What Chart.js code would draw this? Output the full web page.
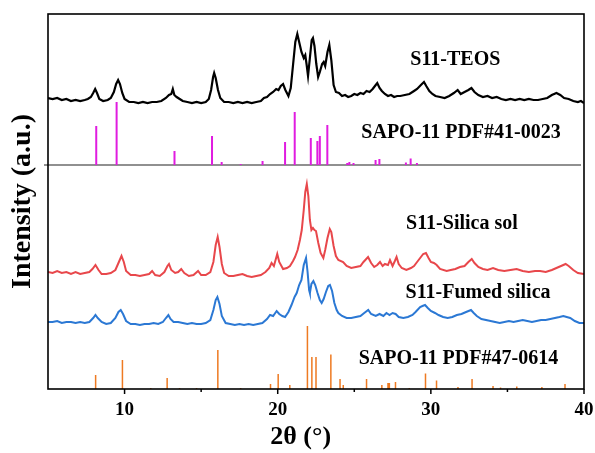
<!DOCTYPE html>
<html>
<head>
<meta charset="utf-8">
<script src="https://cdn.jsdelivr.net/npm/chart.js@4.4.1/dist/chart.umd.min.js"></script>
<style>
  html, body { margin: 0; padding: 0; background: #fff; }
</style>
</head>
<body>
<canvas id="xrdChart" width="595" height="453"></canvas>
<script>
// 2θ axis
const majorTicks = [10, 20, 30, 40];
const minorTicks = [15, 25, 35];

// measured patterns: [2θ, intensity a.u.]
const teosPattern = [
    [5.0,21],[5.3,20],[5.6,21],[5.9,19],[6.2,20],[6.5,18],[6.8,19],[7.1,18],[7.4,19],[7.6,20],[7.8,22],
    [7.95,26],[8.08,30],[8.2,26],[8.35,20],[8.6,18],[8.9,19],[9.1,21],[9.3,27],[9.45,35],[9.58,39],[9.7,35],
    [9.85,26],[10.0,20],[10.3,17],[10.6,17],[10.9,16],[11.2,17],[11.5,16],[11.8,17],[12.1,17],[12.4,18],
    [12.7,21],[12.9,24],[13.05,25],[13.15,30],[13.25,24],[13.4,22],[13.6,20],[13.8,18],[14.1,17],[14.4,16],
    [14.7,17],[15.0,16],[15.3,17],[15.5,20],[15.65,29],[15.78,42],[15.85,46],[15.95,41],[16.1,29],[16.25,21],
    [16.5,17],[16.8,17],[17.1,16],[17.4,17],[17.7,16],[18.0,17],[18.3,16],[18.6,17],[18.9,18],[19.1,21],
    [19.3,22],[19.5,25],[19.7,27],[19.9,30],[20.05,29],[20.2,33],[20.35,35],[20.5,29],[20.7,23],[20.85,31],
    [21.0,54],[21.15,77],[21.28,85],[21.4,77],[21.55,67],[21.7,61],[21.8,64],[21.9,53],[21.98,43],[22.1,61],
    [22.22,79],[22.3,81],[22.4,73],[22.52,55],[22.64,42],[22.75,47],[22.9,55],[23.0,57],[23.1,53],[23.25,67],
    [23.37,74],[23.5,59],[23.65,34],[23.8,27],[24.0,26],[24.2,23],[24.4,24],[24.6,22],[24.8,23],[25.0,25],
    [25.2,24],[25.4,26],[25.6,25],[25.8,28],[26.0,27],[26.2,30],[26.4,34],[26.5,36],[26.65,31],[26.8,28],
    [27.0,25],[27.2,23],[27.4,24],[27.6,22],[27.8,23],[28.0,23],[28.3,24],[28.6,25],[28.9,28],[29.1,30],
    [29.35,34],[29.55,37],[29.7,33],[29.9,28],[30.1,25],[30.3,23],[30.6,22],[30.9,21],[31.2,23],[31.5,26],
    [31.75,29],[31.95,25],[32.2,27],[32.45,29],[32.65,31],[32.85,27],[33.1,24],[33.4,22],[33.7,23],[34.0,21],
    [34.3,22],[34.6,20],[34.9,19],[35.2,20],[35.5,19],[35.8,20],[36.1,19],[36.4,20],[36.7,19],[37.0,19],
    [37.3,20],[37.6,21],[37.9,24],[38.2,26],[38.45,24],[38.7,21],[39.0,20],[39.3,18],[39.6,17],[39.8,18],[40.0,16]
];

const silicaSolPattern = [
    [5.0,17],[5.3,16],[5.6,18],[5.9,16],[6.2,17],[6.5,15],[6.8,17],[7.1,15],[7.4,16],[7.7,17],[7.9,20],
    [8.1,24],[8.3,19],[8.5,15],[8.8,15],[9.1,16],[9.4,19],[9.6,26],[9.8,33],[9.95,27],[10.1,18],[10.4,14],
    [10.7,14],[11.0,13],[11.3,14],[11.6,15],[11.8,18],[12.0,14],[12.3,13],[12.6,17],[12.8,23],[12.9,25],
    [13.05,19],[13.3,16],[13.5,17],[13.7,20],[13.9,16],[14.2,13],[14.5,14],[14.8,18],[15.0,14],[15.3,14],
    [15.6,17],[15.8,27],[15.95,44],[16.08,52],[16.2,42],[16.35,25],[16.5,16],[16.8,13],[17.1,13],[17.4,14],
    [17.7,15],[18.0,13],[18.3,12],[18.6,13],[18.9,14],[19.2,17],[19.45,21],[19.6,26],[19.75,23],[19.97,35],
    [20.1,27],[20.35,20],[20.6,21],[20.8,23],[21.0,28],[21.13,32],[21.3,39],[21.45,49],[21.57,59],[21.7,79],
    [21.8,97],[21.9,105],[22.0,93],[22.1,69],[22.2,59],[22.3,61],[22.4,59],[22.5,58],[22.65,46],[22.8,36],
    [22.98,31],[23.1,39],[23.25,51],[23.4,60],[23.5,57],[23.65,43],[23.8,33],[23.96,29],[24.27,27],[24.5,23],
    [24.8,21],[25.1,22],[25.4,23],[25.6,27],[25.9,32],[26.1,26],[26.3,22],[26.5,24],[26.68,27],[26.85,23],
    [27.0,25],[27.2,24],[27.33,29],[27.5,23],[27.65,28],[27.76,32],[27.9,25],[28.1,21],[28.4,19],[28.7,21],
    [28.9,23],[29.1,27],[29.35,32],[29.5,35],[29.68,36],[29.85,31],[30.0,27],[30.2,26],[30.38,24],[30.6,20],
    [31.03,18],[31.3,19],[31.6,20],[31.9,22],[32.2,23],[32.45,27],[32.67,30],[32.85,26],[33.1,22],[33.4,20],
    [33.7,19],[34.06,21],[34.4,19],[34.8,18],[35.2,19],[35.6,20],[36.0,18],[36.4,17],[36.8,18],[37.13,18],
    [37.5,17],[37.9,19],[38.2,21],[38.5,23],[38.8,25],[39.0,23],[39.3,19],[39.6,16],[40.0,15]
];

const fumedSilicaPattern = [
    [5.0,17],[5.3,17],[5.6,18],[5.9,16],[6.2,17],[6.5,17],[6.8,16],[7.1,17],[7.4,16],[7.7,17],[7.95,21],
    [8.1,24],[8.25,21],[8.5,17],[8.8,15],[9.1,16],[9.4,21],[9.6,27],[9.75,29],[9.9,25],[10.1,18],[10.4,15],
    [10.7,15],[11.0,14],[11.3,15],[11.6,15],[11.9,16],[12.2,15],[12.5,17],[12.7,21],[12.86,24],[13.0,20],
    [13.2,17],[13.5,17],[13.8,16],[14.1,15],[14.4,16],[14.7,15],[15.0,15],[15.3,16],[15.6,19],[15.8,29],
    [15.95,39],[16.06,42],[16.2,35],[16.35,23],[16.6,16],[16.9,15],[17.2,14],[17.5,15],[17.8,14],[18.1,15],
    [18.4,14],[18.7,15],[19.0,16],[19.3,20],[19.5,24],[19.7,23],[19.93,28],[20.1,25],[20.3,23],[20.48,22],
    [20.7,27],[20.9,34],[21.1,42],[21.24,46],[21.4,54],[21.55,59],[21.7,74],[21.85,81],[21.95,67],[22.05,49],
    [22.1,46],[22.2,55],[22.33,58],[22.45,54],[22.6,46],[22.75,39],[22.87,36],[23.0,40],[23.15,47],[23.3,53],
    [23.41,54],[23.55,48],[23.7,36],[23.85,29],[23.96,26],[24.2,23],[24.5,21],[24.8,21],[25.1,22],[25.4,23],
    [25.65,26],[25.91,29],[26.1,25],[26.4,23],[26.65,25],[26.9,23],[27.1,26],[27.3,24],[27.5,26],[27.7,25],
    [27.9,22],[28.2,21],[28.5,22],[28.8,24],[29.0,27],[29.3,32],[29.45,33],[29.62,34],[29.8,31],[30.0,28],
    [30.27,26],[30.5,24],[30.8,22],[31.1,21],[31.4,22],[31.7,24],[32.0,25],[32.3,27],[32.62,29],[32.8,26],
    [33.0,23],[33.3,20],[33.6,19],[33.9,18],[34.2,17],[34.5,16],[34.8,17],[35.1,18],[35.4,17],[35.7,18],
    [36.0,19],[36.3,18],[36.6,17],[36.9,18],[37.2,19],[37.5,19],[37.8,20],[38.1,21],[38.4,22],[38.65,23],
    [38.87,22],[39.1,21],[39.4,18],[39.7,16],[40.0,16]
];

// standard cards: [2θ, relative intensity]
const pdf41_0023 = [
    [8.15,39],[9.48,63],[13.26,14],[15.71,29],[16.34,3],[17.58,1],[19.01,4],[20.48,23],[21.11,53],
    [22.16,27],[22.59,24],[22.75,29],[23.24,40],[24.54,2],[24.68,3],[24.95,2],[26.39,5],[26.64,6],
    [28.37,2.5],[28.68,6.5],[29.09,2]
];

const pdf47_0614 = [
    [8.11,14],[9.86,29],[11.71,1],[12.78,11],[13.59,1],[14.70,1],[16.09,39],[17.58,1],[19.53,5],
    [20.03,15],[20.79,4],[21.94,63],[22.23,32],[22.50,32],[23.47,34.5],[24.07,10],[24.28,4],[25.80,10],
    [26.80,4],[27.20,6],[27.29,6],[27.69,7],[28.59,1],[29.65,15.5],[30.37,8.6],[31.77,2],[32.69,10],
    [34.06,3],[34.55,1.5],[35.61,2.5],[37.25,2],[38.76,5]
];

const seriesNames = ['S11-TEOS', 'SAPO-11 PDF#41-0023', 'S11-Silica sol', 'S11-Fumed silica', 'SAPO-11 PDF#47-0614'];
const xTitle = '2θ (°)';

// vertical stacking of the traces
const shifts = { teos: 270, pdf41: 224, sol: 100, fumed: 50, pdf47: 0 };

// where each name sits (2θ, a.u.)
const nameSpots = [[31.6, 329], [31.97, 256], [32.03, 165], [33.08, 96], [31.8, 30]];

const serif = "'Liberation Serif', 'Times New Roman', serif";

function shifted(pattern, shift) {
    return pattern.map(([t, v]) => ({ x: t, y: v + shift }));
}

function sticks(card, base) {
    const pts = [];
    card.forEach(([t, h]) => {
        pts.push({ x: t, y: base }, { x: t, y: base + h }, { x: t, y: null });
    });
    return pts;
}

function lineSet(label, data, color, width) {
    return {
        label: label,
        data: data,
        borderColor: color,
        borderWidth: width,
        pointRadius: 0,
        tension: 0,
        spanGaps: false,
        borderCapStyle: 'butt'
    };
}

const framePlugin = {
    id: 'frame',
    beforeDatasetsDraw(chart) {
        const { ctx, chartArea, scales } = chart;
        // separator under the PDF#41-0023 card
        const y = scales.y.getPixelForValue(shifts.pdf41);
        ctx.save();
        ctx.strokeStyle = '#6b6b6b';
        ctx.lineWidth = 1.5;
        ctx.beginPath();
        ctx.moveTo(chartArea.left - 4, y);
        ctx.lineTo(chartArea.right - 3, y);
        ctx.stroke();
        ctx.restore();
    },
    afterDatasetsDraw(chart) {
        const { ctx, chartArea, scales } = chart;
        ctx.save();
        ctx.strokeStyle = '#000';
        ctx.lineWidth = 1.6;
        ctx.strokeRect(chartArea.left, chartArea.top, chartArea.right - chartArea.left, chartArea.bottom - chartArea.top);

        ctx.lineWidth = 1.5;
        majorTicks.forEach(v => {
            const x = scales.x.getPixelForValue(v);
            ctx.beginPath();
            ctx.moveTo(x, chartArea.bottom);
            ctx.lineTo(x, chartArea.bottom + 5);
            ctx.stroke();
        });
        minorTicks.forEach(v => {
            const x = scales.x.getPixelForValue(v);
            ctx.beginPath();
            ctx.moveTo(x, chartArea.bottom);
            ctx.lineTo(x, chartArea.bottom + 3);
            ctx.stroke();
        });

        ctx.fillStyle = '#000';
        ctx.font = 'bold 20px ' + serif;
        ctx.textAlign = 'center';
        ctx.textBaseline = 'middle';
        seriesNames.forEach((name, i) => {
            const [t, v] = nameSpots[i];
            ctx.fillText(name, scales.x.getPixelForValue(t), scales.y.getPixelForValue(v));
        });

        // axis title, sitting a little left of the axis centre as in the figure
        ctx.font = 'bold 26px ' + serif;
        ctx.fillText(xTitle, scales.x.getPixelForValue(21.5), chartArea.bottom + 48);
        ctx.restore();
    }
};

new Chart(document.getElementById('xrdChart').getContext('2d'), {
    type: 'line',
    data: {
        datasets: [
            lineSet(seriesNames[0], shifted(teosPattern, shifts.teos), '#000000', 2.2),
            lineSet(seriesNames[1], sticks(pdf41_0023, shifts.pdf41), '#e01ce0', 2),
            lineSet(seriesNames[2], shifted(silicaSolPattern, shifts.sol), '#e8474b', 2),
            lineSet(seriesNames[3], shifted(fumedSilicaPattern, shifts.fumed), '#2b78d4', 2),
            lineSet(seriesNames[4], sticks(pdf47_0614, shifts.pdf47), '#ee7a22', 1.5)
        ]
    },
    options: {
        responsive: false,
        animation: false,
        devicePixelRatio: 1,
        layout: { padding: { top: 14, right: 11, left: 0, bottom: 0 } },
        plugins: {
            legend: { display: false },
            tooltip: { enabled: false }
        },
        scales: {
            x: {
                type: 'linear',
                min: 5,
                max: 40,
                afterBuildTicks: s => { s.ticks = majorTicks.map(v => ({ value: v })); },
                afterFit: s => { s.height = 64; s.paddingLeft = 0; s.paddingRight = 0; },
                grid: { display: false },
                border: { display: false },
                ticks: {
                    color: '#000',
                    padding: 2,
                    maxRotation: 0,
                    font: { family: serif, size: 19, weight: 'bold' }
                },
                title: { display: false }
            },
            y: {
                type: 'linear',
                min: 0,
                max: 375,
                afterFit: s => { s.width = 48; },
                grid: { display: false },
                border: { display: false },
                ticks: { display: false },
                title: {
                    display: true,
                    text: 'Intensity (a.u.)',
                    color: '#000',
                    padding: { top: 6, bottom: 0 },
                    font: { family: serif, size: 28, weight: 'bold' }
                }
            }
        }
    },
    plugins: [framePlugin]
});
</script>
</body>
</html>
